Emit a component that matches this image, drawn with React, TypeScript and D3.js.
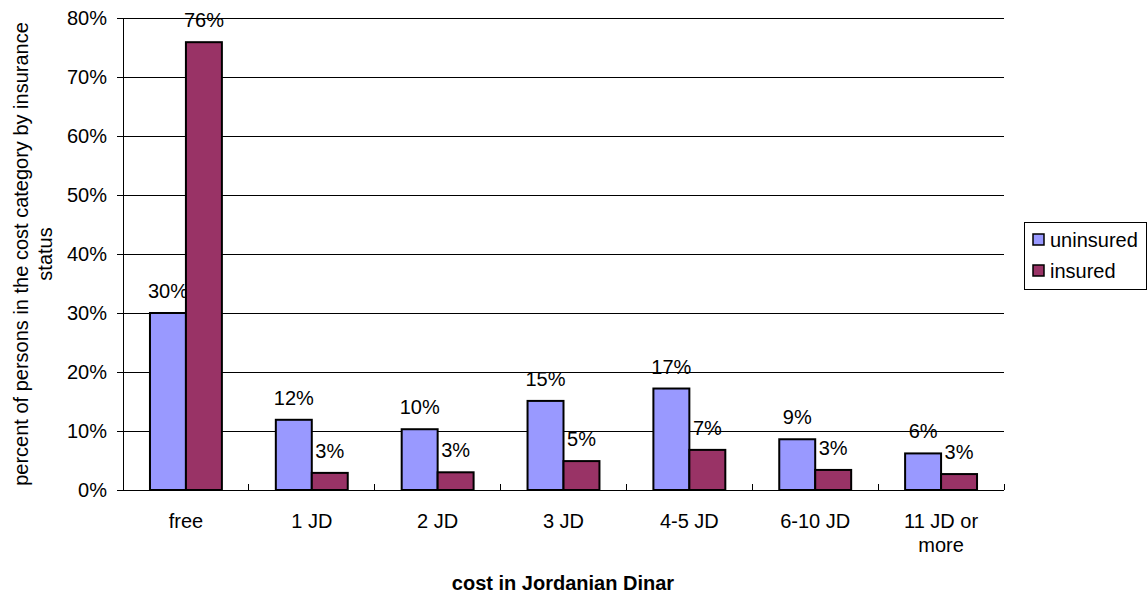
import React from "react";
import * as d3 from "d3";

const categories = ["free", "1 JD", "2 JD", "3 JD", "4-5 JD", "6-10 JD", "11 JD or more"];
const uninsured = [30.0, 11.9, 10.3, 15.1, 17.2, 8.6, 6.2];
const insured = [75.9, 2.9, 3.0, 4.9, 6.8, 3.4, 2.7];
const yTicks = [0, 10, 20, 30, 40, 50, 60, 70, 80];
const seriesNames = ["uninsured", "insured"];
const seriesColors = ["#9999FF", "#993366"];

const W = 1148;
const H = 594;
const margin = { left: 123, right: 1004, top: 18, bottom: 490 };
const FONT = "'Liberation Sans', Arial, sans-serif";
const FS = 20;

export default function App() {
  const x = d3.scaleBand<string>().domain(categories).range([margin.left, margin.right]).paddingInner(0).paddingOuter(0);
  const y = d3.scaleLinear().domain([0, 80]).range([margin.bottom, margin.top]);
  const bw = x.bandwidth() / 3.5;
  const series = [uninsured, insured];

  const catLines = (c: string) => (c === "11 JD or more" ? ["11 JD or", "more"] : [c]);

  return (
    <svg width={W} height={H} style={{ position: "absolute", left: 0, top: 0, fontFamily: FONT }}>
      <rect x={0} y={0} width={W} height={H} fill="#fff" />
      {/* gridlines */}
      {yTicks.slice(1).map((t) => (
        <line key={t} x1={margin.left} x2={margin.right} y1={y(t)} y2={y(t)} stroke="#000" strokeWidth={1} shapeRendering="crispEdges" />
      ))}
      {/* y axis */}
      <line x1={margin.left} x2={margin.left} y1={margin.top} y2={margin.bottom} stroke="#000" strokeWidth={1} shapeRendering="crispEdges" />
      {yTicks.map((t) => (
        <g key={t}>
          <line x1={margin.left - 6} x2={margin.left} y1={y(t)} y2={y(t)} stroke="#000" shapeRendering="crispEdges" />
          <text x={margin.left - 16} y={y(t)} dy="0.35em" textAnchor="end" fontSize={FS} fill="#000">
            {t}%
          </text>
        </g>
      ))}
      {/* bars */}
      {categories.map((c, i) => {
        const x0 = (x(c) as number) + bw * 0.75;
        return (
          <g key={c}>
            {series.map((s, k) => {
              const v = s[i];
              const bx = x0 + k * bw;
              return (
                <g key={k}>
                  <rect x={bx} y={y(v)} width={bw} height={y(0) - y(v)} fill={seriesColors[k]} stroke="#000" strokeWidth={2} />
                  <text x={bx + bw / 2} y={y(v) - 15} textAnchor="middle" fontSize={FS} fill="#000">
                    {Math.round(v)}%
                  </text>
                </g>
              );
            })}
          </g>
        );
      })}
      {/* x axis */}
      <line x1={margin.left} x2={margin.right} y1={margin.bottom} y2={margin.bottom} stroke="#000" strokeWidth={1} shapeRendering="crispEdges" />
      {categories.map((c) => (
        <line key={"t" + c} x1={(x(c) as number) + x.bandwidth()} x2={(x(c) as number) + x.bandwidth()} y1={margin.bottom - 6} y2={margin.bottom} stroke="#000" shapeRendering="crispEdges" />
      ))}
      {categories.map((c) => (
        <text key={"l" + c} x={(x(c) as number) + x.bandwidth() / 2} y={528} textAnchor="middle" fontSize={FS} fill="#000">
          {catLines(c).map((ln, j) => (
            <tspan key={j} x={(x(c) as number) + x.bandwidth() / 2} dy={j === 0 ? 0 : 24}>
              {ln}
            </tspan>
          ))}
        </text>
      ))}
      {/* axis titles */}
      <text x={563} y={590} textAnchor="middle" fontSize={FS} fontWeight="bold" fill="#000">
        cost in Jordanian Dinar
      </text>
      <text transform={`translate(28, ${(margin.top + margin.bottom) / 2}) rotate(-90)`} textAnchor="middle" fontSize={FS} fill="#000">
        <tspan x={0} dy={0}>percent of persons in the cost category by insurance</tspan>
        <tspan x={0} dy={24}>status</tspan>
      </text>
      {/* legend */}
      <rect x={1024.5} y={222.5} width={122} height={67} fill="#fff" stroke="#000" strokeWidth={1} />
      {seriesNames.map((n, k) => (
        <g key={n}>
          <rect x={1033} y={234 + k * 31} width={11} height={11} fill={seriesColors[k]} stroke="#000" strokeWidth={1.5} />
          <text x={1050} y={240 + k * 31} dy="0.35em" fontSize={FS} fill="#000">
            {n}
          </text>
        </g>
      ))}
    </svg>
  );
}
